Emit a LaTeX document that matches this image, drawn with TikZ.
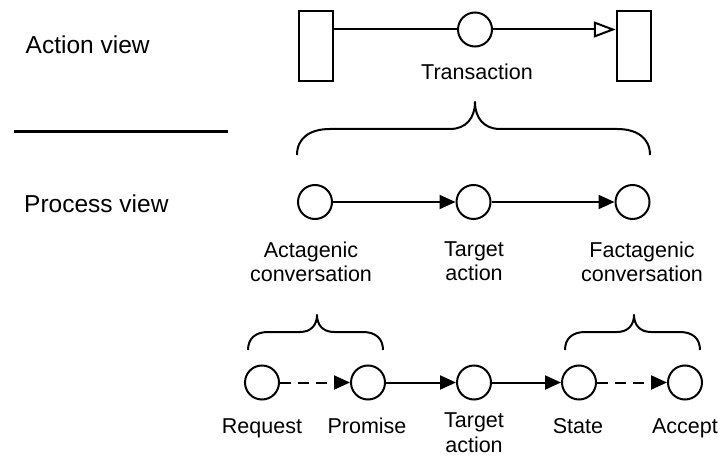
\documentclass[tikz,border=0pt]{standalone}
\usepackage{fontspec}
\setmainfont{Liberation Sans}
\usetikzlibrary{arrows.meta}
\tikzset{
  lw/.style={line width=2pt},
  state/.style={circle, draw, lw, minimum size=34pt, inner sep=0pt},
  actor/.style={rectangle, draw, lw, minimum width=34.5pt, minimum height=70.5pt, inner sep=0pt},
  lbl/.style={inner sep=0pt, font=\fontsize{21.5}{24.5}\selectfont, align=center},
  viewlbl/.style={inner sep=0pt, font=\fontsize{24.5}{28}\selectfont},
  flow/.style={lw, -{Triangle[length=16pt,width=14pt]}},
  dflow/.style={flow, dash pattern=on 11pt off 7pt},
  tx/.style={lw, -{Triangle[open,length=22pt,width=16pt]}},
  brace/.style={lw, line join=round}
}
\begin{document}
\begin{tikzpicture}[x=1pt,y=-1pt]
\useasboundingbox (0,0) rectangle (720,457);
% left labels
\node[viewlbl, anchor=base west] (av) at (25.5,54) {Action view};
\node[viewlbl, anchor=base west] (pv) at (24,213) {Process view};
\coordinate (sepL) at (14,132);
\coordinate (sepR) at (228,132);
\draw[line width=3pt] (sepL) -- (sepR);
% action view
\node[actor] (A) at (316,46) {};
\node[actor] (B) at (634,46) {};
\node[state] (T) at (475,29.5) {};
\draw[lw] (A.east |- T) -- (T);
\draw[tx] (T) -- (B.west |- T);
\node[lbl, anchor=base] (tlbl) at (477,80) {Transaction};
% big brace
\draw[brace] (297,155) .. controls (297,138) and (310,129) .. (330,129) -- (450,129)
  .. controls (466,129) and (475,118) .. (475,102)
  .. controls (475,118) and (484,129) .. (500,129) -- (617,129)
  .. controls (637,129) and (650,138) .. (650,155);
% process view
\node[state] (C1) at (315,202) {};
\node[state] (C2) at (473.5,202) {};
\node[state] (C3) at (632.5,202) {};
\draw[flow] (C1) -- (C2);
\draw[flow] (C2) -- (C3);
\node[lbl, anchor=north] (l1) at (311,241.5) {Actagenic\\conversation};
\node[lbl, anchor=north] (l2) at (474,241.5) {Target\\action};
\node[lbl, anchor=north] (l3) at (642,241.5) {Factagenic\\conversation};
% small braces
\draw[brace] (248,350) .. controls (248,339) and (255,332) .. (268,332) -- (300,332)
  .. controls (311,332) and (317,325) .. (317,315)
  .. controls (317,325) and (323,332) .. (334,332) -- (363,332)
  .. controls (376,332) and (383,339) .. (383,350);
\draw[brace] (565,350) .. controls (565,339) and (572,332) .. (585,332) -- (617,332)
  .. controls (628,332) and (634,325) .. (634,315)
  .. controls (634,325) and (640,332) .. (651,332) -- (680,332)
  .. controls (693,332) and (700,339) .. (700,350);
% bottom row
\node[state] (D1) at (262,382.5) {};
\node[state] (D2) at (368,382.5) {};
\node[state] (D3) at (474,382.5) {};
\node[state] (D4) at (579,382.5) {};
\node[state] (D5) at (685,382.5) {};
\draw[dflow] (D1) -- (D2);
\draw[flow] (D2) -- (D3);
\draw[flow] (D3) -- (D4);
\draw[dflow] (D4) -- (D5);
\node[lbl, anchor=base] (m1) at (262,433) {Request};
\node[lbl, anchor=base] (m2) at (367,433) {Promise};
\node[lbl, anchor=north] (m3) at (474,413) {Target\\action};
\node[lbl, anchor=base] (m4) at (578,433) {State};
\node[lbl, anchor=base] (m5) at (685,433) {Accept};
\end{tikzpicture}
\end{document}
